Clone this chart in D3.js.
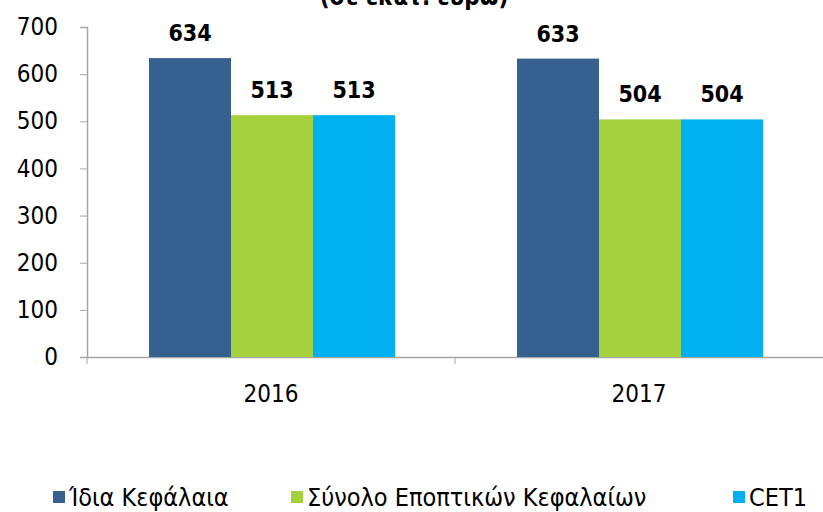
<!DOCTYPE html>
<html>
<head>
<meta charset="utf-8">
<script src="https://cdn.jsdelivr.net/npm/d3@7"></script>
<style>
  body { margin: 0; background: #fff; }
  svg text { font-family: "DejaVu Sans Condensed", "Liberation Sans Narrow", sans-serif; }
</style>
</head>
<body>
<div id="chart"></div>
<script>
const width = 823, height = 512;

const years = ["2016", "2017"];
const series = ["Ίδια Κεφάλαια", "Σύνολο Εποπτικών Κεφαλαίων", "CET1"];
const colors = ["#36608F", "#A6D13F", "#00B0F0"];
const values = [
    [634, 513, 513],
    [633, 504, 504]
];
const yTicks = [0, 100, 200, 300, 400, 500, 600, 700];

const margin = {left: 87, right: 0, top: 27, bottom: 155};

const svg = d3.select("#chart").append("svg")
    .attr("width", width)
    .attr("height", height);

// title is mostly cut off at the top of the picture
svg.append("text")
    .attr("x", 414)
    .attr("y", 5)
    .attr("text-anchor", "middle")
    .attr("font-size", 24)
    .attr("font-weight", "bold")
    .text("(σε εκατ. ευρώ)");

const x = d3.scaleBand()
    .domain(years)
    .range([margin.left, width - margin.right]);

const xInner = d3.scaleBand()
    .domain(series)
    .range([62, x.bandwidth() - 60]);

const y = d3.scaleLinear()
    .domain([0, 700])
    .range([height - margin.bottom, margin.top]);

// y axis
const yAxis = svg.append("g")
    .attr("transform", `translate(${margin.left},0)`)
    .call(d3.axisLeft(y).tickValues(yTicks).tickSize(7).tickPadding(22));
yAxis.selectAll("text").attr("font-size", 24).attr("fill", "#000");

// x axis
const xAxis = svg.append("g")
    .attr("transform", `translate(0,${y(0)})`)
    .call(d3.axisBottom(x).tickSize(0).tickPadding(28));
xAxis.selectAll("text").attr("font-size", 24).attr("fill", "#000");
xAxis.selectAll(".tick line").remove();
svg.append("g").selectAll("line")
    .data([margin.left, x(years[1])])
    .join("line")
    .attr("x1", d => d).attr("x2", d => d)
    .attr("y1", y(0)).attr("y2", y(0) + 7)
    .attr("stroke", "#A6A6A6");

svg.selectAll(".domain").attr("stroke", "#A6A6A6").attr("stroke-width", 1.5);
yAxis.selectAll(".tick line").attr("stroke", "#A6A6A6");

// bars
const groups = svg.append("g").selectAll("g")
    .data(years)
    .join("g")
    .attr("transform", d => `translate(${x(d)},0)`);

groups.selectAll("rect")
    .data((d, i) => values[i].map((v, j) => ({s: series[j], v: v, c: colors[j]})))
    .join("rect")
    .attr("x", d => xInner(d.s))
    .attr("width", xInner.bandwidth())
    .attr("y", d => y(d.v))
    .attr("height", d => y(0) - y(d.v))
    .attr("fill", d => d.c);

groups.selectAll("text.lbl")
    .data((d, i) => values[i].map((v, j) => ({s: series[j], v: v})))
    .join("text")
    .attr("class", "lbl")
    .attr("x", d => xInner(d.s) + xInner.bandwidth() / 2)
    .attr("y", d => y(d.v) - 17)
    .attr("text-anchor", "middle")
    .attr("font-size", 23)
    .attr("font-weight", "bold")
    .text(d => d.v);

// legend
const legendX = [53, 291, 733];
const legend = svg.append("g").selectAll("g")
    .data(series)
    .join("g")
    .attr("transform", (d, i) => `translate(${legendX[i]},491)`);
legend.append("rect")
    .attr("width", 12).attr("height", 12)
    .attr("fill", (d, i) => colors[i]);
legend.append("text")
    .attr("x", 16)
    .attr("y", 15)
    .attr("font-size", 25)
    .text(d => d);
</script>
</body>
</html>
